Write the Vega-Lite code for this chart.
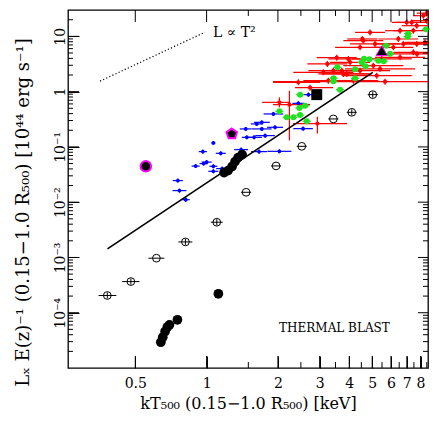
{
"$schema":"https://vega.github.io/schema/vega-lite/v6.json",
"width":360,"height":358,
"autosize":{"type":"none"},
"padding":{"left":68,"top":10,"right":8,"bottom":59},
"background":"white",
"config":{"view":{"stroke":"black","strokeWidth":1.3},"axis":{"labelFont":"DejaVu Serif","titleFont":"DejaVu Serif","labelColor":"black","titleColor":"black","titleFontWeight":"normal","domain":false,"grid":false,"tickColor":"black"}},
"datasets":{
"red":[
{"T":2.029,"Tlo":1.715,"Thi":2.25,"L":0.64,"Llo":0.52,"Lhi":0.789},
{"T":2.236,"Tlo":1.908,"Thi":2.733,"L":0.582,"Llo":0.13,"Lhi":1.042},
{"T":2.935,"Tlo":2.317,"Thi":3.916,"L":0.264,"Llo":0.174,"Lhi":0.353},
{"T":2.439,"Tlo":1.908,"Thi":3.012,"L":1.473,"Llo":1.3,"Lhi":1.669},
{"T":2.733,"Tlo":2.362,"Thi":3.418,"L":1.181,"Llo":1.042,"Lhi":1.338},
{"T":3.233,"Tlo":2.663,"Thi":3.925,"L":3.169,"Llo":2.797,"Lhi":3.591},
{"T":3.428,"Tlo":2.689,"Thi":4.371,"L":2.397,"Llo":2.116,"Lhi":2.716},
{"T":3.111,"Tlo":2.323,"Thi":4.166,"L":2.234,"Llo":1.972,"Lhi":2.531},
{"T":3.721,"Tlo":3.065,"Thi":4.517,"L":2.397,"Llo":2.116,"Lhi":2.716},
{"T":3.905,"Tlo":3.063,"Thi":4.979,"L":2.09,"Llo":1.845,"Lhi":2.368},
{"T":4.032,"Tlo":3.321,"Thi":4.895,"L":3.387,"Llo":2.989,"Lhi":3.837},
{"T":4.443,"Tlo":3.318,"Thi":5.949,"L":2.397,"Llo":2.116,"Lhi":2.716},
{"T":4.897,"Tlo":4.233,"Thi":5.666,"L":11.81,"Llo":10.42,"Lhi":13.38},
{"T":4.587,"Tlo":3.778,"Thi":5.569,"L":8.36,"Llo":7.38,"Lhi":9.47},
{"T":5.14,"Tlo":4.031,"Thi":6.554,"L":7.29,"Llo":6.43,"Lhi":8.26},
{"T":5.485,"Tlo":4.096,"Thi":7.344,"L":3.902,"Llo":3.444,"Lhi":4.421},
{"T":5.664,"Tlo":1.908,"Thi":9.0,"L":1.516,"Llo":1.338,"Lhi":1.718},
{"T":6.142,"Tlo":5.059,"Thi":7.456,"L":6.326,"Llo":5.583,"Lhi":7.167},
{"T":6.554,"Tlo":5.14,"Thi":8.356,"L":4.172,"Llo":3.682,"Lhi":4.727},
{"T":7.458,"Tlo":6.143,"Thi":9.054,"L":5.136,"Llo":4.533,"Lhi":5.819},
{"T":7.708,"Tlo":6.662,"Thi":8.918,"L":7.29,"Llo":6.43,"Lhi":8.26},
{"T":6.768,"Tlo":5.054,"Thi":9.062,"L":7.29,"Llo":6.43,"Lhi":8.26},
{"T":6.554,"Tlo":5.665,"Thi":7.583,"L":12.68,"Llo":11.19,"Lhi":14.37},
{"T":7.458,"Tlo":6.143,"Thi":9.054,"L":12.68,"Llo":11.19,"Lhi":14.37},
{"T":8.219,"Tlo":7.458,"Thi":9.057,"L":23.67,"Llo":20.89,"Lhi":26.82},
{"T":8.494,"Tlo":7.708,"Thi":9.36,"L":26.28,"Llo":23.19,"Lhi":29.78},
{"T":7.708,"Tlo":6.662,"Thi":8.918,"L":15.61,"Llo":13.78,"Lhi":17.69},
{"T":4.164,"Tlo":3.266,"Thi":5.309,"L":1.581,"Llo":1.395,"Lhi":1.791},
{"T":3.543,"Tlo":2.918,"Thi":4.301,"L":4.12,"Llo":3.636,"Lhi":4.668},
{"T":3.265,"Tlo":2.561,"Thi":4.163,"L":1.581,"Llo":1.395,"Lhi":1.791},
{"T":5.056,"Tlo":3.776,"Thi":6.77,"L":2.953,"Llo":2.606,"Lhi":3.346},
{"T":5.396,"Tlo":3.841,"Thi":7.581,"L":2.574,"Llo":2.272,"Lhi":2.916},
{"T":4.543,"Tlo":3.926,"Thi":5.256,"L":8.97,"Llo":7.92,"Lhi":10.16},
{"T":4.443,"Tlo":3.485,"Thi":5.665,"L":6.326,"Llo":5.583,"Lhi":7.167},
{"T":6.446,"Tlo":5.31,"Thi":7.825,"L":8.97,"Llo":7.92,"Lhi":10.16},
{"T":7.731,"Tlo":5.774,"Thi":11.4,"L":4.805,"Llo":4.241,"Lhi":5.444},
{"T":5.226,"Tlo":3.72,"Thi":7.343,"L":1.947,"Llo":1.718,"Lhi":2.206},
{"T":3.966,"Tlo":3.267,"Thi":4.815,"L":3.902,"Llo":3.444,"Lhi":4.421},
{"T":8.355,"Tlo":6.882,"Thi":10.14,"L":7.79,"Llo":6.88,"Lhi":8.83},
{"T":7.342,"Tlo":6.346,"Thi":8.495,"L":17.91,"Llo":15.81,"Lhi":20.29},
{"T":8.494,"Tlo":7.341,"Thi":9.828,"L":19.23,"Llo":16.97,"Lhi":21.79},
{"T":6.994,"Tlo":6.045,"Thi":8.092,"L":17.91,"Llo":15.81,"Lhi":20.29},
{"T":3.778,"Tlo":2.963,"Thi":4.817,"L":2.09,"Llo":1.845,"Lhi":2.368}
],
"green":[
{"T":2.029,"Tlo":1.951,"Thi":2.11,"L":0.44,"Llo":0.405,"Lhi":0.478},
{"T":2.18,"Tlo":2.096,"Thi":2.267,"L":0.343,"Llo":0.316,"Lhi":0.373},
{"T":2.324,"Tlo":2.235,"Thi":2.417,"L":0.343,"Llo":0.316,"Lhi":0.373},
{"T":2.481,"Tlo":2.386,"Thi":2.58,"L":0.376,"Llo":0.346,"Lhi":0.409},
{"T":2.464,"Tlo":2.369,"Thi":2.563,"L":0.507,"Llo":0.466,"Lhi":0.551},
{"T":2.604,"Tlo":2.504,"Thi":2.708,"L":0.558,"Llo":0.513,"Lhi":0.607},
{"T":2.647,"Tlo":2.545,"Thi":2.753,"L":0.29,"Llo":0.267,"Lhi":0.315},
{"T":2.481,"Tlo":2.386,"Thi":2.58,"L":0.883,"Llo":0.812,"Lhi":0.96},
{"T":3.428,"Tlo":3.296,"Thi":3.565,"L":1.549,"Llo":1.425,"Lhi":1.684},
{"T":3.435,"Tlo":3.303,"Thi":3.572,"L":1.754,"Llo":1.614,"Lhi":1.907},
{"T":3.658,"Tlo":3.517,"Thi":3.804,"L":1.087,"Llo":1.0,"Lhi":1.182},
{"T":4.233,"Tlo":4.07,"Thi":4.402,"L":1.74,"Llo":1.601,"Lhi":1.891},
{"T":4.233,"Tlo":4.07,"Thi":4.402,"L":2.552,"Llo":2.348,"Lhi":2.774},
{"T":3.564,"Tlo":3.427,"Thi":3.707,"L":2.751,"Llo":2.531,"Lhi":2.99},
{"T":4.517,"Tlo":4.343,"Thi":4.698,"L":3.387,"Llo":3.116,"Lhi":3.682},
{"T":4.619,"Tlo":4.441,"Thi":4.804,"L":3.952,"Llo":3.636,"Lhi":4.296},
{"T":4.872,"Tlo":4.685,"Thi":5.067,"L":3.87,"Llo":3.56,"Lhi":4.207},
{"T":4.687,"Tlo":4.507,"Thi":4.874,"L":2.892,"Llo":2.661,"Lhi":3.144},
{"T":5.307,"Tlo":5.103,"Thi":5.519,"L":3.636,"Llo":3.345,"Lhi":3.952},
{"T":5.594,"Tlo":5.379,"Thi":5.818,"L":3.561,"Llo":3.276,"Lhi":3.871},
{"T":5.72,"Tlo":5.5,"Thi":5.949,"L":6.789,"Llo":6.246,"Lhi":7.38},
{"T":5.947,"Tlo":5.718,"Thi":6.185,"L":4.866,"Llo":4.477,"Lhi":5.289},
{"T":7.084,"Tlo":6.812,"Thi":7.367,"L":11.19,"Llo":10.29,"Lhi":12.16},
{"T":7.049,"Tlo":6.778,"Thi":7.331,"L":9.88,"Llo":9.09,"Lhi":10.74},
{"T":8.44,"Tlo":8.115,"Thi":8.778,"L":13.5,"Llo":12.42,"Lhi":14.67}
],
"blue":[
{"T":0.756,"Tlo":0.72,"Thi":0.794,"L":0.0246,"Llo":0.0226,"Lhi":0.0267},
{"T":0.768,"Tlo":0.718,"Thi":0.822,"L":0.0162,"Llo":0.0149,"Lhi":0.0176},
{"T":0.816,"Tlo":0.785,"Thi":0.849,"L":0.0111,"Llo":0.0102,"Lhi":0.0121},
{"T":0.899,"Tlo":0.864,"Thi":0.935,"L":0.045,"Llo":0.0414,"Lhi":0.0489},
{"T":0.971,"Tlo":0.934,"Thi":1.01,"L":0.0499,"Llo":0.0459,"Lhi":0.0542},
{"T":1.0,"Tlo":0.952,"Thi":1.05,"L":0.0531,"Llo":0.0488,"Lhi":0.0577},
{"T":1.068,"Tlo":1.027,"Thi":1.111,"L":0.0446,"Llo":0.041,"Lhi":0.0485},
{"T":1.068,"Tlo":1.017,"Thi":1.121,"L":0.0362,"Llo":0.0333,"Lhi":0.0393},
{"T":0.964,"Tlo":0.927,"Thi":1.003,"L":0.0822,"Llo":0.0756,"Lhi":0.0894},
{"T":1.068,"Tlo":1.047,"Thi":1.089,"L":0.118,"Llo":0.109,"Lhi":0.128},
{"T":1.148,"Tlo":1.093,"Thi":1.205,"L":0.0766,"Llo":0.0705,"Lhi":0.0833},
{"T":1.163,"Tlo":1.097,"Thi":1.233,"L":0.0405,"Llo":0.0373,"Lhi":0.044},
{"T":1.398,"Tlo":1.307,"Thi":1.496,"L":0.0893,"Llo":0.0822,"Lhi":0.0971},
{"T":1.463,"Tlo":1.38,"Thi":1.551,"L":0.2116,"Llo":0.1947,"Lhi":0.23},
{"T":1.586,"Tlo":1.469,"Thi":1.713,"L":0.149,"Llo":0.137,"Lhi":0.162},
{"T":1.628,"Tlo":1.536,"Thi":1.726,"L":0.2606,"Llo":0.2397,"Lhi":0.2833},
{"T":1.665,"Tlo":1.542,"Thi":1.798,"L":0.0822,"Llo":0.0756,"Lhi":0.0894},
{"T":2.029,"Tlo":1.805,"Thi":2.281,"L":0.0832,"Llo":0.0765,"Lhi":0.0904},
{"T":1.71,"Tlo":1.583,"Thi":1.847,"L":0.2786,"Llo":0.2563,"Lhi":0.3028},
{"T":1.914,"Tlo":1.74,"Thi":2.105,"L":0.395,"Llo":0.363,"Lhi":0.429},
{"T":1.71,"Tlo":1.555,"Thi":1.881,"L":0.2116,"Llo":0.1947,"Lhi":0.23},
{"T":1.945,"Tlo":1.801,"Thi":2.101,"L":0.2262,"Llo":0.2081,"Lhi":0.2459},
{"T":1.766,"Tlo":1.605,"Thi":1.943,"L":0.16,"Llo":0.147,"Lhi":0.174},
{"T":1.478,"Tlo":1.408,"Thi":1.552,"L":0.149,"Llo":0.137,"Lhi":0.162},
{"T":2.439,"Tlo":2.301,"Thi":2.585,"L":0.614,"Llo":0.565,"Lhi":0.667},
{"T":2.689,"Tlo":2.561,"Thi":2.823,"L":0.883,"Llo":0.812,"Lhi":0.96},
{"T":2.554,"Tlo":2.322,"Thi":2.809,"L":0.214,"Llo":0.197,"Lhi":0.233}
],
"open":[
{"T":0.381,"Tlo":0.35,"Thi":0.416,"L":0.000205,"Llo":0.000181,"Lhi":0.000232},
{"T":0.479,"Tlo":0.44,"Thi":0.521,"L":0.000366,"Llo":0.000323,"Lhi":0.000415},
{"T":0.614,"Tlo":0.568,"Thi":0.663,"L":0.00097,"Llo":0.00097,"Lhi":0.00097},
{"T":0.814,"Tlo":0.76,"Thi":0.871,"L":0.00191,"Llo":0.00169,"Lhi":0.00216},
{"T":1.104,"Tlo":1.042,"Thi":1.17,"L":0.00434,"Llo":0.00383,"Lhi":0.00492},
{"T":1.468,"Tlo":1.398,"Thi":1.541,"L":0.0151,"Llo":0.0151,"Lhi":0.0151},
{"T":1.964,"Tlo":1.871,"Thi":2.062,"L":0.0453,"Llo":0.0453,"Lhi":0.0453},
{"T":2.522,"Tlo":2.402,"Thi":2.648,"L":0.1025,"Llo":0.1025,"Lhi":0.1025},
{"T":3.428,"Tlo":3.265,"Thi":3.6,"L":0.3209,"Llo":0.3209,"Lhi":0.3209},
{"T":4.1,"Tlo":3.905,"Thi":4.305,"L":0.4225,"Llo":0.373,"Lhi":0.479},
{"T":5.027,"Tlo":4.788,"Thi":5.278,"L":0.8826,"Llo":0.779,"Lhi":1.0}
],
"black":[
{"T":1.121,"L":0.00022},
{"T":0.753,"L":0.0000745},
{"T":0.697,"L":0.0000604},
{"T":0.683,"L":0.0000551},
{"T":0.668,"L":0.0000457},
{"T":0.653,"L":0.000036},
{"T":0.641,"L":0.0000293},
{"T":1.185,"L":0.0343},
{"T":1.232,"L":0.0373},
{"T":1.281,"L":0.0441},
{"T":1.319,"L":0.0542},
{"T":1.358,"L":0.064},
{"T":1.412,"L":0.0726}
],
"square":[{"T":2.917,"L":0.883}],
"triangle":[{"T":5.485,"L":5.51}],
"mcircle":[{"T":0.554,"L":0.0446}],
"pentagon":[{"T":1.277,"L":0.1718}],
"fit":[{"T":0.3815,"L":0.00143},{"T":5.027,"L":2.234}],
"powerlaw":[{"T":0.355,"L":1.55},{"T":0.985,"L":11.9}],
"lab1":[{"T":1.065,"L":9.88,"text":"L ∝ T²"}],
"lab2":[{"T":2.023,"L":0.0000457,"text":"THERMAL BLAST"}],
"xmajor":[{"v":0.5},{"v":1},{"v":2},{"v":3},{"v":4},{"v":5},{"v":6},{"v":7},{"v":8}],
"xminor":[{"v":1.5},{"v":2.5},{"v":3.5},{"v":4.5},{"v":5.5},{"v":6.5},{"v":7.5},{"v":8.5}],
"ymajor":[{"v":0.0001},{"v":0.001},{"v":0.01},{"v":0.1},{"v":1},{"v":10}],
"yminor":[{"v":0.00002},{"v":0.00003},{"v":0.00004},{"v":0.00005},{"v":0.00006},{"v":0.00007},{"v":0.00008},{"v":0.00009},{"v":0.0002},{"v":0.0003},{"v":0.0004},{"v":0.0005},{"v":0.0006},{"v":0.0007},{"v":0.0008},{"v":0.0009},{"v":0.002},{"v":0.003},{"v":0.004},{"v":0.005},{"v":0.006},{"v":0.007},{"v":0.008},{"v":0.009},{"v":0.02},{"v":0.03},{"v":0.04},{"v":0.05},{"v":0.06},{"v":0.07},{"v":0.08},{"v":0.09},{"v":0.2},{"v":0.3},{"v":0.4},{"v":0.5},{"v":0.6},{"v":0.7},{"v":0.8},{"v":0.9},{"v":2},{"v":3},{"v":4},{"v":5},{"v":6},{"v":7},{"v":8},{"v":9},{"v":20}]
},
"layer":[
{"data":{"name":"red"},"mark":{"type":"rule","color":"#ff0000","strokeWidth":1.2,"clip":true},
 "encoding":{
  "x":{"field":"Tlo","type":"quantitative","scale":{"type":"log","domain":[0.26,8.6],"nice":false},
   "axis":{"orient":"bottom","offset":-12,"title":"kT₅₀₀ (0.15−1.0 R₅₀₀) [keV]","values":[0.5,1,2,3,4,5,6,7,8],
    "labelExpr":"datum.value==0.5 ? '0.5' : ''+datum.value",
    "tickSize":12,"labelPadding":8,"labelFontSize":14,"labelOverlap":false,"labelFlush":false,
    "titleFontSize":16,"titleX":180,"titleY":52,"titleAlign":"center","titleBaseline":"alphabetic"}},
  "x2":{"field":"Thi"},
  "y":{"field":"L","type":"quantitative","scale":{"type":"log","domain":[0.00001,30],"nice":false},
   "axis":{"orient":"left","offset":-11,"title":"Lₓ E(z)⁻¹ (0.15−1.0 R₅₀₀) [10⁴⁴ erg s⁻¹]",
    "values":[0.0001,0.001,0.01,0.1,1,10],
    "labelExpr":"datum.value==10?'10':datum.value==1?'1':datum.value==0.1?'10⁻¹':datum.value==0.01?'10⁻²':datum.value==0.001?'10⁻³':'10⁻⁴'",
    "tickSize":11,
    "labelAngle":-90,"labelAlign":"center","labelBaseline":"bottom","labelPadding":1,"labelFontSize":14,"labelOverlap":false,"labelFlush":false,
    "titleFontSize":18,"titleAngle":-90,"titleX":-51,"titleY":202,"titleAlign":"center","titleBaseline":"alphabetic"}}}},
{"data":{"name":"red"},"mark":{"type":"rule","color":"#ff0000","strokeWidth":1.2,"clip":true},
 "encoding":{"x":{"field":"T","type":"quantitative","scale":{"type":"log","domain":[0.26,8.6],"nice":false}},
  "y":{"field":"Llo","type":"quantitative","scale":{"type":"log","domain":[0.00001,30],"nice":false}},"y2":{"field":"Lhi"}}},
{"data":{"name":"red"},"mark":{"type":"point","shape":"circle","filled":true,"color":"#ff0000","opacity":1,"size":18,"clip":true},
 "encoding":{"x":{"field":"T","type":"quantitative","scale":{"type":"log","domain":[0.26,8.6],"nice":false}},
  "y":{"field":"L","type":"quantitative","scale":{"type":"log","domain":[0.00001,30],"nice":false}}}},
{"data":{"name":"blue"},"mark":{"type":"rule","color":"#0000ff","strokeWidth":1.2},
 "encoding":{"x":{"field":"Tlo","type":"quantitative","scale":{"type":"log","domain":[0.26,8.6],"nice":false}},"x2":{"field":"Thi"},
  "y":{"field":"L","type":"quantitative","scale":{"type":"log","domain":[0.00001,30],"nice":false}}}},
{"data":{"name":"blue"},"mark":{"type":"rule","color":"#0000ff","strokeWidth":1.2},
 "encoding":{"x":{"field":"T","type":"quantitative","scale":{"type":"log","domain":[0.26,8.6],"nice":false}},
  "y":{"field":"Llo","type":"quantitative","scale":{"type":"log","domain":[0.00001,30],"nice":false}},"y2":{"field":"Lhi"}}},
{"data":{"name":"blue"},"mark":{"type":"point","shape":"circle","filled":true,"color":"#0000ff","opacity":1,"size":14},
 "encoding":{"x":{"field":"T","type":"quantitative","scale":{"type":"log","domain":[0.26,8.6],"nice":false}},
  "y":{"field":"L","type":"quantitative","scale":{"type":"log","domain":[0.00001,30],"nice":false}}}},
{"data":{"name":"green"},"mark":{"type":"rule","color":"#22e022","strokeWidth":1.2},
 "encoding":{"x":{"field":"Tlo","type":"quantitative","scale":{"type":"log","domain":[0.26,8.6],"nice":false}},"x2":{"field":"Thi"},
  "y":{"field":"L","type":"quantitative","scale":{"type":"log","domain":[0.00001,30],"nice":false}}}},
{"data":{"name":"green"},"mark":{"type":"point","shape":"circle","filled":true,"color":"#22e022","opacity":1,"size":36,"clip":true},
 "encoding":{"x":{"field":"T","type":"quantitative","scale":{"type":"log","domain":[0.26,8.6],"nice":false}},
  "y":{"field":"L","type":"quantitative","scale":{"type":"log","domain":[0.00001,30],"nice":false}}}},
{"data":{"name":"open"},"mark":{"type":"rule","color":"black","strokeWidth":1},
 "encoding":{"x":{"field":"Tlo","type":"quantitative","scale":{"type":"log","domain":[0.26,8.6],"nice":false}},"x2":{"field":"Thi"},
  "y":{"field":"L","type":"quantitative","scale":{"type":"log","domain":[0.00001,30],"nice":false}}}},
{"data":{"name":"open"},"mark":{"type":"rule","color":"black","strokeWidth":1},
 "encoding":{"x":{"field":"T","type":"quantitative","scale":{"type":"log","domain":[0.26,8.6],"nice":false}},
  "y":{"field":"Llo","type":"quantitative","scale":{"type":"log","domain":[0.00001,30],"nice":false}},"y2":{"field":"Lhi"}}},
{"data":{"name":"open"},"mark":{"type":"point","shape":"circle","filled":false,"color":"black","strokeWidth":1,"opacity":1,"size":60},
 "encoding":{"x":{"field":"T","type":"quantitative","scale":{"type":"log","domain":[0.26,8.6],"nice":false}},
  "y":{"field":"L","type":"quantitative","scale":{"type":"log","domain":[0.00001,30],"nice":false}}}},
{"data":{"name":"fit"},"mark":{"type":"line","color":"black","strokeWidth":1.6},
 "encoding":{"x":{"field":"T","type":"quantitative","scale":{"type":"log","domain":[0.26,8.6],"nice":false}},
  "y":{"field":"L","type":"quantitative","scale":{"type":"log","domain":[0.00001,30],"nice":false}}}},
{"data":{"name":"powerlaw"},"mark":{"type":"line","color":"black","strokeWidth":1.2,"strokeDash":[1.2,2.2]},
 "encoding":{"x":{"field":"T","type":"quantitative","scale":{"type":"log","domain":[0.26,8.6],"nice":false}},
  "y":{"field":"L","type":"quantitative","scale":{"type":"log","domain":[0.00001,30],"nice":false}}}},
{"data":{"name":"black"},"mark":{"type":"point","shape":"circle","filled":true,"color":"black","opacity":1,"size":95},
 "encoding":{"x":{"field":"T","type":"quantitative","scale":{"type":"log","domain":[0.26,8.6],"nice":false}},
  "y":{"field":"L","type":"quantitative","scale":{"type":"log","domain":[0.00001,30],"nice":false}}}},
{"data":{"name":"square"},"mark":{"type":"point","shape":"square","filled":true,"color":"black","opacity":1,"size":120},
 "encoding":{"x":{"field":"T","type":"quantitative","scale":{"type":"log","domain":[0.26,8.6],"nice":false}},
  "y":{"field":"L","type":"quantitative","scale":{"type":"log","domain":[0.00001,30],"nice":false}}}},
{"data":{"name":"triangle"},"mark":{"type":"point","shape":"triangle-up","filled":true,"fill":"black","stroke":"#ff00ff","strokeWidth":1,"opacity":1,"size":130},
 "encoding":{"x":{"field":"T","type":"quantitative","scale":{"type":"log","domain":[0.26,8.6],"nice":false}},
  "y":{"field":"L","type":"quantitative","scale":{"type":"log","domain":[0.00001,30],"nice":false}}}},
{"data":{"name":"mcircle"},"mark":{"type":"point","shape":"circle","filled":true,"fill":"black","stroke":"#ff00ff","strokeWidth":2,"opacity":1,"size":110},
 "encoding":{"x":{"field":"T","type":"quantitative","scale":{"type":"log","domain":[0.26,8.6],"nice":false}},
  "y":{"field":"L","type":"quantitative","scale":{"type":"log","domain":[0.00001,30],"nice":false}}}},
{"data":{"name":"pentagon"},"mark":{"type":"point","shape":"M0,-1L0.951,-0.309L0.588,0.809L-0.588,0.809L-0.951,-0.309Z","filled":true,"fill":"black","stroke":"#ff00ff","strokeWidth":2,"opacity":1,"size":120},
 "encoding":{"x":{"field":"T","type":"quantitative","scale":{"type":"log","domain":[0.26,8.6],"nice":false}},
  "y":{"field":"L","type":"quantitative","scale":{"type":"log","domain":[0.00001,30],"nice":false}}}},
{"data":{"name":"lab1"},"mark":{"type":"text","font":"DejaVu Serif","fontSize":14,"align":"left","baseline":"alphabetic","color":"black"},
 "encoding":{"x":{"field":"T","type":"quantitative","scale":{"type":"log","domain":[0.26,8.6],"nice":false}},
  "y":{"field":"L","type":"quantitative","scale":{"type":"log","domain":[0.00001,30],"nice":false}},"text":{"field":"text"}}},
{"data":{"name":"lab2"},"mark":{"type":"text","font":"DejaVu Serif","fontSize":12,"align":"left","baseline":"alphabetic","color":"black"},
 "encoding":{"x":{"field":"T","type":"quantitative","scale":{"type":"log","domain":[0.26,8.6],"nice":false}},
  "y":{"field":"L","type":"quantitative","scale":{"type":"log","domain":[0.00001,30],"nice":false}},"text":{"field":"text"}}},
{"data":{"name":"xmajor"},"mark":{"type":"rule","color":"black","strokeWidth":1},
 "encoding":{"x":{"field":"v","type":"quantitative","scale":{"type":"log","domain":[0.26,8.6],"nice":false}},
  "y":{"datum":0.00001,"type":"quantitative","scale":{"type":"log","domain":[0.00001,30],"nice":false}},"y2":{"datum":0.0000165}}},
{"data":{"name":"xminor"},"mark":{"type":"rule","color":"black","strokeWidth":1},
 "encoding":{"x":{"field":"v","type":"quantitative","scale":{"type":"log","domain":[0.26,8.6],"nice":false}},
  "y":{"datum":0.00001,"type":"quantitative","scale":{"type":"log","domain":[0.00001,30],"nice":false}},"y2":{"datum":0.0000128}}},
{"data":{"name":"xmajor"},"mark":{"type":"rule","color":"black","strokeWidth":1},
 "encoding":{"x":{"field":"v","type":"quantitative","scale":{"type":"log","domain":[0.26,8.6],"nice":false}},
  "y":{"datum":30,"type":"quantitative","scale":{"type":"log","domain":[0.00001,30],"nice":false}},"y2":{"datum":18.2}}},
{"data":{"name":"xminor"},"mark":{"type":"rule","color":"black","strokeWidth":1},
 "encoding":{"x":{"field":"v","type":"quantitative","scale":{"type":"log","domain":[0.26,8.6],"nice":false}},
  "y":{"datum":30,"type":"quantitative","scale":{"type":"log","domain":[0.00001,30],"nice":false}},"y2":{"datum":23.4}}},
{"data":{"name":"ymajor"},"mark":{"type":"rule","color":"black","strokeWidth":1},
 "encoding":{"y":{"field":"v","type":"quantitative","scale":{"type":"log","domain":[0.00001,30],"nice":false}},
  "x":{"datum":0.26,"type":"quantitative","scale":{"type":"log","domain":[0.26,8.6],"nice":false}},"x2":{"datum":0.2893}}},
{"data":{"name":"yminor"},"mark":{"type":"rule","color":"black","strokeWidth":1},
 "encoding":{"y":{"field":"v","type":"quantitative","scale":{"type":"log","domain":[0.00001,30],"nice":false}},
  "x":{"datum":0.26,"type":"quantitative","scale":{"type":"log","domain":[0.26,8.6],"nice":false}},"x2":{"datum":0.2729}}},
{"data":{"name":"ymajor"},"mark":{"type":"rule","color":"black","strokeWidth":1},
 "encoding":{"y":{"field":"v","type":"quantitative","scale":{"type":"log","domain":[0.00001,30],"nice":false}},
  "x":{"datum":8.6,"type":"quantitative","scale":{"type":"log","domain":[0.26,8.6],"nice":false}},"x2":{"datum":7.8}}},
{"data":{"name":"yminor"},"mark":{"type":"rule","color":"black","strokeWidth":1},
 "encoding":{"y":{"field":"v","type":"quantitative","scale":{"type":"log","domain":[0.00001,30],"nice":false}},
  "x":{"datum":8.6,"type":"quantitative","scale":{"type":"log","domain":[0.26,8.6],"nice":false}},"x2":{"datum":8.19}}}
]
}
